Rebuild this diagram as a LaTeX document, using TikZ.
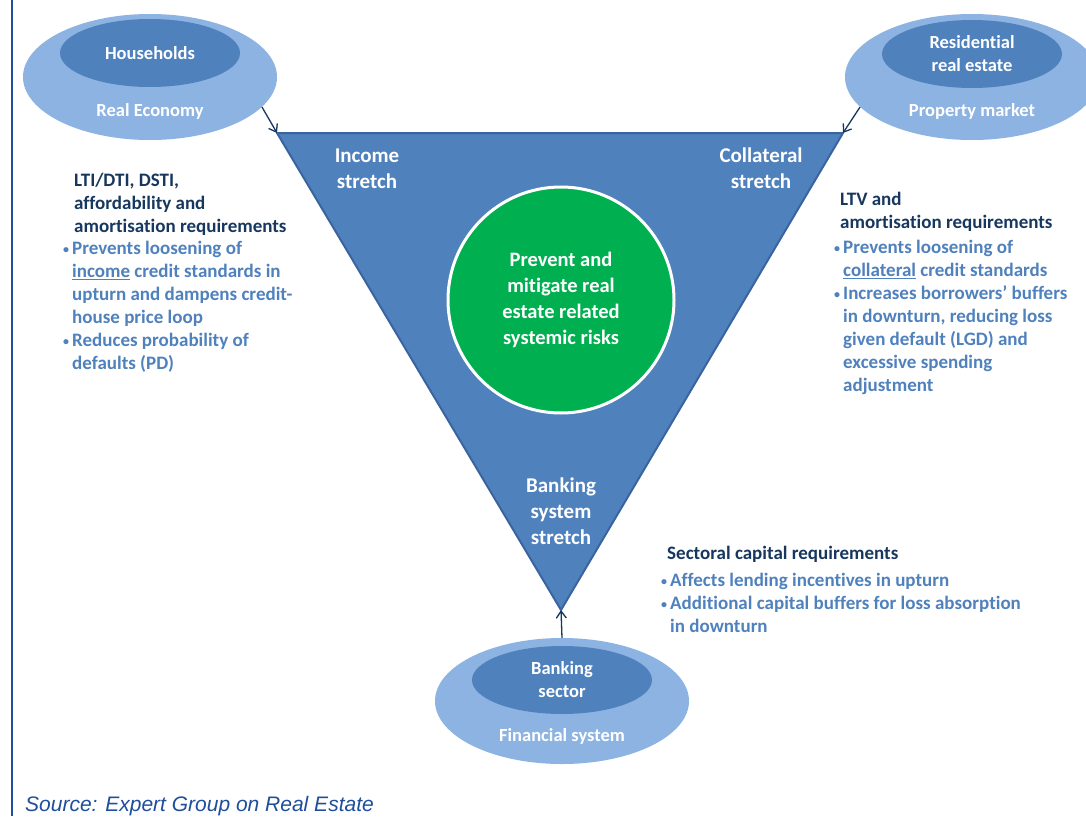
\documentclass[tikz,border=0pt]{standalone}
\usepackage{fontspec}
\setmainfont{Carlito}[Ligatures=NoCommon]
\newfontfamily\srcfont{Liberation Sans}
\usetikzlibrary{arrows.meta, shapes.geometric}

\definecolor{triblue}{HTML}{4F81BD}
\definecolor{triedge}{HTML}{3A64A0}
\definecolor{outerblue}{HTML}{8DB3E2}
\definecolor{navy}{HTML}{17375E}
\definecolor{listblue}{HTML}{4F81BD}
\definecolor{goalgreen}{HTML}{00B050}
\definecolor{rulecol}{HTML}{1F4E9B}

\newcommand{\bitem}{\makebox[10pt][l]{\hspace{1pt}\raisebox{1pt}{\fontsize{12}{12}\selectfont\textbullet}}}
\newcommand{\bcont}{\hspace*{10pt}}

\begin{document}
\begin{tikzpicture}[
x=1pt, y=-1pt,
outer/.style={ellipse, fill=outerblue, minimum width=254pt, minimum height=126pt, inner sep=0pt},
inner/.style={ellipse, fill=triblue, minimum width=180pt, minimum height=68pt, inner sep=0pt,
  text=white, align=center, font=\fontsize{18.5}{23}\selectfont\bfseries},
outertext/.style={text=white, font=\fontsize{18.5}{23}\selectfont\bfseries},
stretch/.style={text=white, align=center, font=\fontsize{21}{26}\selectfont\bfseries},
head/.style={anchor=north west, inner sep=0pt, align=left, text=navy,
  font=\fontsize{19}{23}\selectfont\bfseries},
list/.style={anchor=north west, inner sep=0pt, align=left, text=listblue,
  font=\fontsize{19}{23}\selectfont\bfseries},
link/.style={-{Straight Barb[length=7pt,width=10pt]}, draw=navy, line width=1.3pt}
]
\useasboundingbox (0,0) rectangle (1086,816);
\clip (0,0) rectangle (1086,816);
\fill[white] (0,0) rectangle (1086,816);

% left rule
\draw[rulecol, line width=2pt] (12,0) -- (12,816);

% triangle
\coordinate (tl) at (277,133);
\coordinate (tr) at (843,133);
\coordinate (bt) at (561,610);
\draw[fill=triblue, draw=triedge, line width=2pt, line join=round] (tl) -- (tr) -- (bt) -- cycle;

\node (incstr) [stretch] at (367,169) {Income\\stretch};
\node (colstr) [stretch] at (761,168) {Collateral\\stretch};
\node (bnkstr) [stretch] at (561,511) {Banking\\system\\stretch};

% goal
\node (goal) [circle, fill=goalgreen, draw=white, line width=3pt, minimum size=226pt,
  text=white, align=center, font=\fontsize{20.5}{26}\selectfont\bfseries] at (561,300)
  {Prevent and\\mitigate real\\estate related\\systemic risks};

% sectors
\node (realeco) [outer] at (150,77) {};
\node (households) [inner] at (150,53) {Households};
\node [outertext] at (150,111) {Real Economy};

\node (propmkt) [outer] at (972,77) {};
\node (resre) [inner] at (972,54) {Residential\\real estate};
\node [outertext] at (972,111) {Property market};

\node (finsys) [outer] at (562,701) {};
\node (banksec) [inner] at (562,680) {Banking\\sector};
\node [outertext] at (562,736) {Financial system};

\draw[link] (realeco.-15) -- (tl);
\draw[link] (propmkt.195) -- (tr);
\draw[link] (finsys.north) -- (bt);

% instruments
\node (lhead) [head] at (74,173) {LTI/DTI, DSTI,\\affordability and\\amortisation requirements};
\node (llist) [list] at (62,241) {\bitem Prevents loosening of\\
  \bcont\underline{income} credit standards in\\
  \bcont upturn and dampens credit-\\
  \bcont house price loop\\
  \bitem Reduces probability of\\
  \bcont defaults (PD)};

\node (rhead) [head] at (840,192) {LTV and\\amortisation requirements};
\node (rlist) [list] at (833,240) {\bitem Prevents loosening of\\
  \bcont\underline{collateral} credit standards\\
  \bitem Increases borrowers’ buffers\\
  \bcont in downturn, reducing loss\\
  \bcont given default (LGD) and\\
  \bcont excessive spending\\
  \bcont adjustment};

\node (bhead) [head] at (667,546) {Sectoral capital requirements};
\node (blist) [list] at (660,573) {\bitem Affects lending incentives in upturn\\
  \bitem Additional capital buffers for loss absorption\\
  \bcont in downturn};

\node (source) [anchor=base west, inner sep=0pt, text=rulecol,
  font=\srcfont\itshape\fontsize{21}{25}\selectfont] at (25,811) {Source: Expert Group on Real Estate};
\end{tikzpicture}
\end{document}
